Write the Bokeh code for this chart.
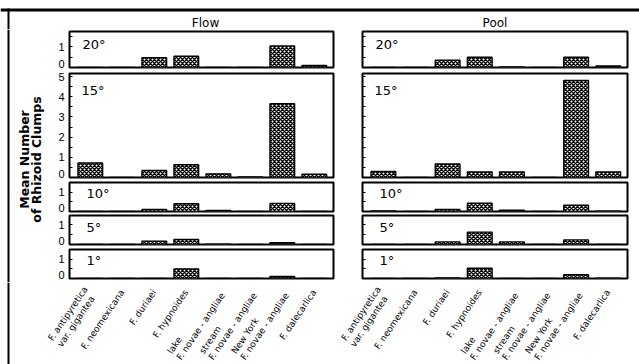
import math
from bokeh.plotting import figure
from bokeh.layouts import column, row
from bokeh.models import (Range1d, FixedTicker, Label, Span, ColumnDataSource,
                          PrintfTickFormatter)
from bokeh.embed import file_html
from bokeh.resources import INLINE
from bokeh.core.properties import value

# ---------------- data ----------------
categories = ["F. antipyretica\nvar. gigantea", "F. neomexicana", "F. duriaei",
              "F. hypnoides", "lake\nF. novae - angliae", "stream\nF. novae - angliae",
              "New York\nF. novae - angliae", "F. dalecarlica"]
temps = ["20°", "15°", "10°", "5°", "1°"]
flow_20 = [0.0, 0.0, 0.48, 0.55, 0.0, 0.0, 1.05, 0.1]
flow_15 = [0.72, 0.0, 0.35, 0.63, 0.18, 0.03, 3.65, 0.16]
flow_10 = [0.0, 0.0, 0.1, 0.4, 0.05, 0.0, 0.42, 0.0]
flow_5 = [0.0, 0.0, 0.17, 0.25, 0.02, 0.0, 0.09, 0.0]
flow_1 = [0.0, 0.0, 0.0, 0.5, 0.0, 0.0, 0.1, 0.0]
pool_20 = [0.0, 0.0, 0.36, 0.5, 0.03, 0.0, 0.5, 0.07]
pool_15 = [0.3, 0.0, 0.67, 0.28, 0.28, 0.0, 4.8, 0.28]
pool_10 = [0.03, 0.0, 0.1, 0.43, 0.07, 0.0, 0.32, 0.02]
pool_5 = [0.0, 0.0, 0.13, 0.62, 0.13, 0.0, 0.23, 0.0]
pool_1 = [0.0, 0.0, 0.03, 0.53, 0.0, 0.0, 0.2, 0.02]
small_ticks = [0, 1]
big_ticks = [0, 1, 2, 3, 4, 5]

flow_series = [flow_20, flow_15, flow_10, flow_5, flow_1]
pool_series = [pool_20, pool_15, pool_10, pool_5, pool_1]
tick_sets = [small_ticks, big_ticks, small_ticks, small_ticks, small_ticks]

# ---------------- layout / style ----------------
FONT = "Liberation Sans"
WIDE = "DejaVu Sans"
YLAB_W = 52
FLOW_BL, FLOW_FW, FLOW_BR = 17, 264, 14
POOL_BL, POOL_FW, POOL_BR = 15, 265, 12
HEADER_H = 29
LABEL_H = 82
ROW_BORDERS = [(2, 36, 4), (2, 104, 3), (2, 29, 3), (1, 29, 4), (1, 29, 4)]
YMAX = [1.75, 5.15, 1.5, 1.45, 1.5]
TEMP_DX = [13, 12, 17, 17, 17]
TEMP_DY = [5, 9, 3, 4, 3]
ZERO_LIFT_PX = 3.5      # the "0" lettering sits just above the baseline
XR = (-0.65, 7.6)
BORDER_X = 8
positions = list(range(len(categories)))
FLOW_W = FLOW_BL + FLOW_FW + FLOW_BR
POOL_W = POOL_BL + POOL_FW + POOL_BR
TOTAL_W = YLAB_W + FLOW_W + POOL_W
PANELS_H = sum(sum(b) for b in ROW_BORDERS)
LAB_SPLIT = YLAB_W + FLOW_BL + FLOW_FW + 4  # where flow/pool label areas meet


def blank_fig(w, h, xr, yr):
    p = figure(width=w, height=h, x_range=xr, y_range=yr, output_backend="svg",
               toolbar_location=None, x_axis_location=None, y_axis_location=None,
               min_border_left=0, min_border_right=0, min_border_top=0, min_border_bottom=0,
               outline_line_color=None, background_fill_color="white",
               border_fill_color="white")
    p.grid.visible = False
    return p


def make_panel(vals, temp, ticks, idx, bl, fw, br, show_labels, tdx):
    bt, fh, bb = ROW_BORDERS[idx]
    p = figure(width=bl + fw + br, height=bt + fh + bb,
               x_range=Range1d(*XR), y_range=Range1d(0, YMAX[idx]),
               output_backend="svg", toolbar_location=None, x_axis_location=None,
               min_border_left=bl, min_border_right=br, min_border_top=bt,
               min_border_bottom=bb, outline_line_color="black", outline_line_width=2,
               background_fill_color="white", border_fill_color="white")
    p.grid.visible = False
    marks = [t / 2 for t in range(1, 2 * ticks[-1] + 2)]
    ax = p.yaxis[0]
    if show_labels:
        lift = ZERO_LIFT_PX * YMAX[idx] / fh
        ax.ticker = FixedTicker(ticks=[ticks[0] + lift] + ticks[1:], minor_ticks=marks)
        ax.formatter = PrintfTickFormatter(format="%d")
    else:
        ax.ticker = FixedTicker(ticks=ticks, minor_ticks=marks)
        ax.major_label_overrides = {t: "" for t in ticks}
    ax.axis_line_color = None
    ax.major_tick_in = 0
    ax.major_tick_out = 0
    ax.minor_tick_in = 3
    ax.minor_tick_out = 0
    ax.minor_tick_line_color = "black"
    ax.major_label_standoff = 5
    ax.major_label_text_font = FONT
    ax.major_label_text_font_size = "11px"
    ax.major_label_text_color = "black"
    src = ColumnDataSource(dict(x=positions, top=vals))
    p.vbar(x="x", top="top", bottom=0, width=0.77, source=src,
           fill_color="white", line_color="black", line_width=1.4,
           hatch_pattern="diagonal_cross", hatch_color="black",
           hatch_scale=4.0, hatch_weight=1.5)
    p.add_layout(Label(x=tdx, y=fh - TEMP_DY[idx], x_units="screen", y_units="screen",
                       text=temp, text_baseline="top", text_align="left",
                       text_font=WIDE, text_font_size="13px", text_color="black"))
    return p


# header with top border and column titles
header = blank_fig(TOTAL_W, HEADER_H, Range1d(0, TOTAL_W), Range1d(0, HEADER_H))
flow_center = YLAB_W + FLOW_BL + FLOW_FW / 2 + 4
pool_center = YLAB_W + FLOW_W + POOL_BL + POOL_FW / 2
header.text(x=[flow_center, pool_center], y=[6.5, 6.5], text=["Flow", "Pool"],
            text_align="center", text_baseline="middle", text_font=value(WIDE),
            text_font_size="12px", text_color="black")
header.add_layout(Span(location=HEADER_H - 9.5, dimension="width", line_color="black", line_width=3))
header.quad(left=[BORDER_X - 1], right=[BORDER_X + 1], bottom=[0], top=[HEADER_H - 8],
            fill_color="black", line_color=None)

# y-axis title column
ylab = blank_fig(YLAB_W, PANELS_H, Range1d(0, YLAB_W), Range1d(0, PANELS_H))
ylab.text(x=[30], y=[PANELS_H - 130], text=["Mean Number\nof Rhizoid Clumps"], angle=math.pi / 2,
          text_align="center", text_baseline="middle", text_font=value(WIDE),
          text_font_style="bold", text_font_size="12.5px", text_line_height=0.8,
          text_color="black")
ylab.add_layout(Span(location=BORDER_X, dimension="height", line_color="black", line_width=2))

flow_panels = [make_panel(flow_series[i], temps[i], tick_sets[i], i,
                          FLOW_BL, FLOW_FW, FLOW_BR, True, TEMP_DX[i]) for i in range(5)]
pool_panels = [make_panel(pool_series[i], temps[i], tick_sets[i], i,
                          POOL_BL, POOL_FW, POOL_BR, False, TEMP_DX[i]) for i in range(5)]


# category labels
def label_fig(w, left_px, fw, with_border):
    ppu = fw / (XR[1] - XR[0])
    xr = Range1d(XR[0] - left_px / ppu, XR[0] + (w - left_px) / ppu)
    p = blank_fig(w, LABEL_H, xr, Range1d(0, LABEL_H))
    p.text(x=positions, y=[LABEL_H - 8] * len(positions), text=categories,
           angle=math.radians(56), anchor="center_right", text_align="left",
           text_font=value(WIDE), text_font_size="9px", text_line_height=1.1,
           text_color="black")
    if with_border:
        p.add_layout(Span(location=BORDER_X, location_units="screen", dimension="height",
                          line_color="black", line_width=2))
    return p


flowlab = label_fig(LAB_SPLIT, YLAB_W + FLOW_BL, FLOW_FW, True)
poollab = label_fig(TOTAL_W - LAB_SPLIT, YLAB_W + FLOW_W + POOL_BL - LAB_SPLIT, POOL_FW, False)

layout = column(header,
                row(ylab, column(*flow_panels), column(*pool_panels)),
                row(flowlab, poollab))

open("out.html", "w").write(file_html(layout, INLINE))
